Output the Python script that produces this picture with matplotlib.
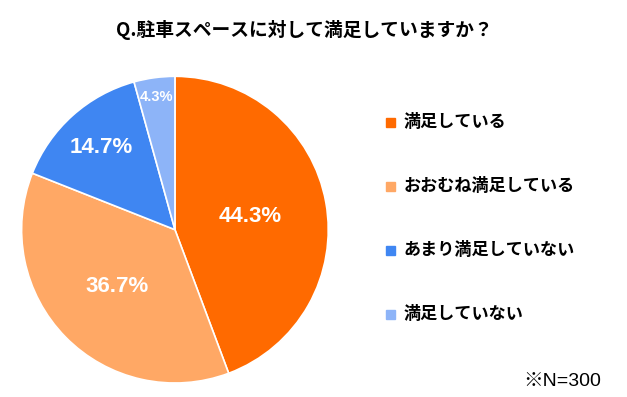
import numpy as np
import matplotlib
matplotlib.use("Agg")
import matplotlib.pyplot as plt

plt.rcParams['font.family'] = ['Noto Sans CJK JP', 'DejaVu Sans']

# データ
categories = ['満足している', 'おおむね満足している', 'あまり満足していない', '満足していない']
values = [44.3, 36.7, 14.7, 4.3]
colors = ['#FF6A00', '#FFA865', '#3F86F2', '#8DB4F8']
title = 'Q.駐車スペースに対して満足していますか？'
note = '※N=300'

fig = plt.figure(figsize=(6.27, 3.97), dpi=100)
ax = fig.add_axes([0.032, 0.031, 0.494, 0.781])

wedges, _ = ax.pie(values, colors=colors, startangle=90, counterclock=False,
                   wedgeprops=dict(edgecolor='white', linewidth=1.2))
ax.set_xlim(-1.01, 1.01)
ax.set_ylim(-1.01, 1.01)
ax.set_aspect('equal')

# ラベル位置（中心からの距離）
dists = [0.5, 0.53, 0.72, 0.87]
sizes = [16, 16, 16, 10.5]
for w, v, d, s in zip(wedges, values, dists, sizes):
    ang = np.deg2rad((w.theta1 + w.theta2) / 2)
    ax.text(d * np.cos(ang), d * np.sin(ang), f'{v}%', ha='center', va='center',
            color='white', fontsize=s, fontweight='bold',
            family=['Liberation Sans', 'DejaVu Sans'])

fig.text(0.485, 0.925, title, ha='center', va='center', fontsize=13.5, fontweight='bold')

# 凡例
ys = [0.693, 0.532, 0.371, 0.21]
for lab, col, y in zip(categories, colors, ys):
    fig.patches.append(plt.Rectangle((0.615, y - 0.014), 0.015, 0.024, color=col,
                                     transform=fig.transFigure, figure=fig))
    fig.text(0.643, y, lab, ha='left', va='center', fontsize=12.3, fontweight='bold')

fig.text(0.958, 0.04, note, ha='right', va='center', fontsize=14,
         family=['Liberation Sans', 'Noto Sans CJK JP'])

fig.savefig('out.png', dpi=100)
